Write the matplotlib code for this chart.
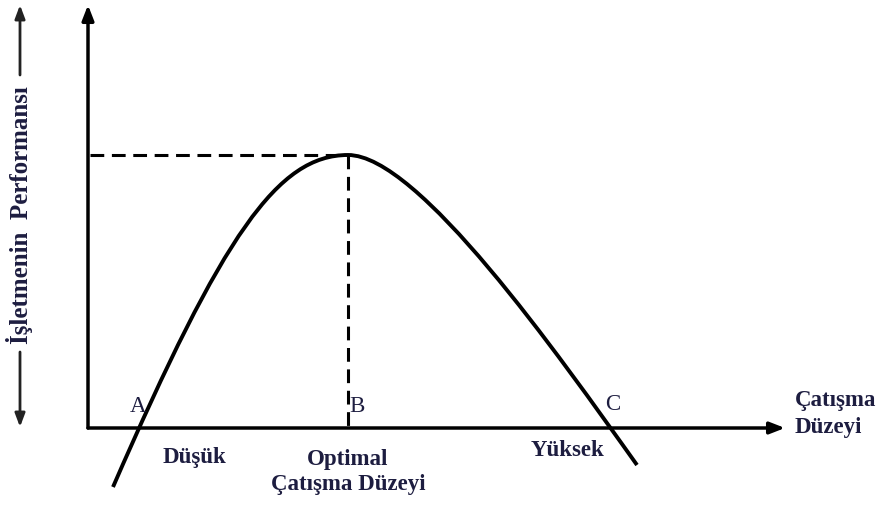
import matplotlib
matplotlib.use("Agg")
import matplotlib.pyplot as plt
from matplotlib.path import Path
from matplotlib.patches import PathPatch

# Curve (pixel coordinates, y downwards):
# start, rising control points, peak, falling control points, end
curve_start = (113, 487)
rise_ctrl = [(223, 234), (278, 155)]
peak = (348, 155)
fall_ctrl = [(418, 155), (557, 353)]
curve_end = (637, 465)

origin_x, origin_y = 90, 428
xaxis_end = 785
yaxis_end = 5

point_labels = ["A", "B", "C"]
point_label_x = [138, 357, 613]
point_label_y = [407, 407, 404]

level_labels = ["Düşük", "Optimal\nÇatışma Düzeyi", "Yüksek"]
level_label_x = [194, 348, 568]
level_label_y = [458, 472, 450]

x_title = "Çatışma\nDüzeyi"
y_title = "İşletmenin  Performansı"

TXT = "#1d1d40"
FONT = "Liberation Serif"
FS = 16.5

fig = plt.figure(figsize=(8.86, 5.09), dpi=100)
ax = fig.add_axes([0, 0, 1, 1])
ax.set_xlim(0, 886)
ax.set_ylim(509, 0)
ax.axis("off")

# axes arrows
ax.annotate("", xy=(xaxis_end, origin_y), xytext=(origin_x - 2, origin_y),
            arrowprops=dict(arrowstyle="-|>,head_length=0.9,head_width=0.35",
                            color="black", lw=2.5, shrinkA=0, shrinkB=0))
ax.annotate("", xy=(origin_x - 2, yaxis_end), xytext=(origin_x - 2, origin_y),
            arrowprops=dict(arrowstyle="-|>,head_length=0.9,head_width=0.35",
                            color="black", lw=2.5, shrinkA=0, shrinkB=0))

# dashed guides
ax.plot([origin_x, peak[0]], [peak[1], peak[1]], color="black", lw=2.2,
        dashes=(4.5, 2.5))
ax.plot([peak[0], peak[0]], [peak[1], origin_y], color="black", lw=2.2,
        dashes=(4.5, 2.5))

# curve as two cubic Bezier segments
verts = [curve_start] + rise_ctrl + [peak] + fall_ctrl + [curve_end]
codes = [Path.MOVETO] + [Path.CURVE4] * 6
ax.add_patch(PathPatch(Path(verts, codes), facecolor="none",
                       edgecolor="black", lw=2.8, capstyle="butt"))

# point labels
for t, x, y in zip(point_labels, point_label_x, point_label_y):
    ax.text(x, y, t, ha="center", va="center", fontsize=FS, color=TXT,
            family=FONT)

for t, x, y in zip(level_labels, level_label_x, level_label_y):
    ax.text(x, y, t, ha="center", va="center", fontsize=FS, color=TXT,
            family=FONT, fontweight="bold", linespacing=1.3)

ax.text(795, 414, x_title, ha="left", va="center", fontsize=FS, color=TXT,
        family=FONT, fontweight="bold", linespacing=1.4)

# y title with double arrow
ax.text(20, 215, y_title, ha="center", va="center", rotation=90, fontsize=18,
        color=TXT, family=FONT, fontweight="bold")
ax.annotate("", xy=(20, 5), xytext=(20, 75),
            arrowprops=dict(arrowstyle="-|>,head_length=0.8,head_width=0.3",
                            color="#222222", lw=2.0, shrinkA=0, shrinkB=0))
ax.annotate("", xy=(20, 427), xytext=(20, 352),
            arrowprops=dict(arrowstyle="-|>,head_length=0.8,head_width=0.3",
                            color="#222222", lw=2.0, shrinkA=0, shrinkB=0))

fig.savefig("out.png", dpi=100)
